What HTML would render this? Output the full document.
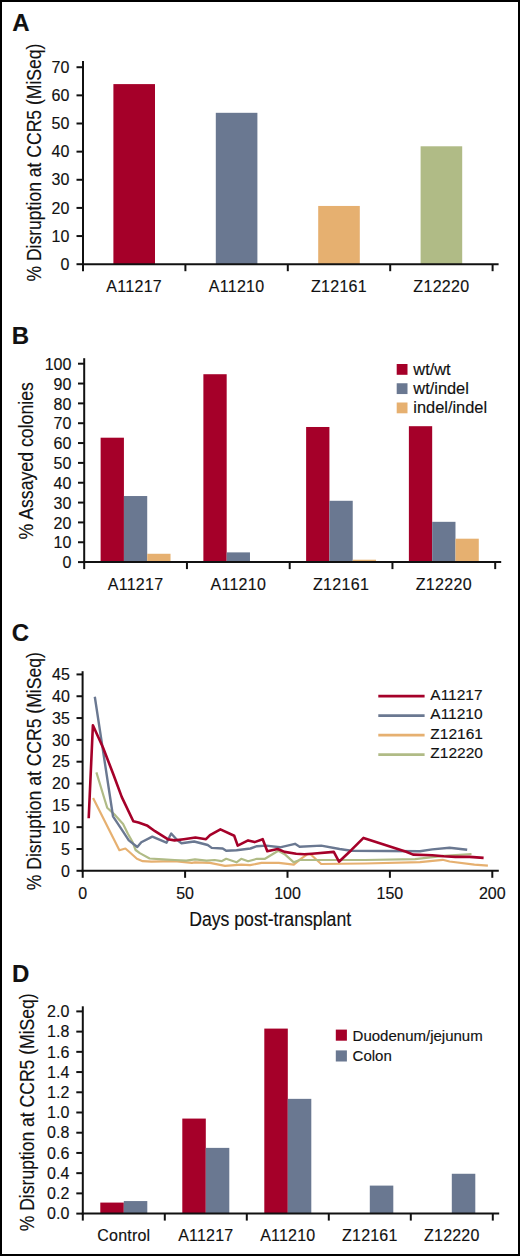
<!DOCTYPE html>
<html><head><meta charset="utf-8"><title>Figure</title>
<style>
html,body{margin:0;padding:0;background:#fff;}
body{width:520px;height:1256px;overflow:hidden;}
.fig{position:relative;width:520px;height:1256px;box-sizing:border-box;border:2px solid #000;background:#fff;}
svg{position:absolute;left:-2px;top:-2px;}
text{font-family:"Liberation Sans", sans-serif;fill:#111;stroke:#111;stroke-width:0.15px;}
</style></head><body>
<div class="fig">
<svg width="520" height="1256" viewBox="0 0 520 1256">
<text x="12.3" y="31.3" font-size="24" text-anchor="start" font-weight="bold">A</text>
<text transform="translate(40.8 162.6) rotate(-90)" x="0" y="0" font-size="20" text-anchor="middle" textLength="238" lengthAdjust="spacingAndGlyphs">% Disruption at CCR5 (MiSeq)</text>
<rect x="113.4" y="84.1" width="41.6" height="180.1" fill="#A50029"/>
<text x="134.2" y="292.2" font-size="16" text-anchor="middle" letter-spacing="0.3">A11217</text>
<rect x="215.8" y="112.81" width="41.6" height="151.39" fill="#6A7891"/>
<text x="236.6" y="292.2" font-size="16" text-anchor="middle" letter-spacing="0.3">A11210</text>
<rect x="318.2" y="205.95" width="41.6" height="58.25" fill="#E6B070"/>
<text x="339" y="292.2" font-size="16" text-anchor="middle" letter-spacing="0.3">Z12161</text>
<rect x="420.6" y="146.29" width="41.6" height="117.91" fill="#B0BB86"/>
<text x="441.4" y="292.2" font-size="16" text-anchor="middle" letter-spacing="0.3">Z12220</text>
<line x1="83" y1="61" x2="83" y2="265.2" stroke="#111" stroke-width="2"/>
<line x1="82" y1="264.2" x2="498.6" y2="264.2" stroke="#111" stroke-width="2"/>
<line x1="76.5" y1="264.2" x2="83" y2="264.2" stroke="#111" stroke-width="2"/>
<text x="69.4" y="269.9" font-size="16" text-anchor="end">0</text>
<line x1="76.5" y1="236.06" x2="83" y2="236.06" stroke="#111" stroke-width="2"/>
<text x="69.4" y="241.76" font-size="16" text-anchor="end">10</text>
<line x1="76.5" y1="207.92" x2="83" y2="207.92" stroke="#111" stroke-width="2"/>
<text x="69.4" y="213.62" font-size="16" text-anchor="end">20</text>
<line x1="76.5" y1="179.78" x2="83" y2="179.78" stroke="#111" stroke-width="2"/>
<text x="69.4" y="185.48" font-size="16" text-anchor="end">30</text>
<line x1="76.5" y1="151.64" x2="83" y2="151.64" stroke="#111" stroke-width="2"/>
<text x="69.4" y="157.34" font-size="16" text-anchor="end">40</text>
<line x1="76.5" y1="123.5" x2="83" y2="123.5" stroke="#111" stroke-width="2"/>
<text x="69.4" y="129.2" font-size="16" text-anchor="end">50</text>
<line x1="76.5" y1="95.36" x2="83" y2="95.36" stroke="#111" stroke-width="2"/>
<text x="69.4" y="101.06" font-size="16" text-anchor="end">60</text>
<line x1="76.5" y1="67.22" x2="83" y2="67.22" stroke="#111" stroke-width="2"/>
<text x="69.4" y="72.92" font-size="16" text-anchor="end">70</text>
<line x1="83" y1="264.2" x2="83" y2="271.2" stroke="#111" stroke-width="2"/>
<line x1="185.4" y1="264.2" x2="185.4" y2="271.2" stroke="#111" stroke-width="2"/>
<line x1="287.8" y1="264.2" x2="287.8" y2="271.2" stroke="#111" stroke-width="2"/>
<line x1="390.2" y1="264.2" x2="390.2" y2="271.2" stroke="#111" stroke-width="2"/>
<line x1="492.6" y1="264.2" x2="492.6" y2="271.2" stroke="#111" stroke-width="2"/>
<text x="11.8" y="343.6" font-size="24" text-anchor="start" font-weight="bold">B</text>
<text transform="translate(33.1 460.8) rotate(-90)" x="0" y="0" font-size="20" text-anchor="middle" textLength="157.5" lengthAdjust="spacingAndGlyphs">% Assayed colonies</text>
<rect x="100.62" y="437.7" width="23.3" height="124.4" fill="#A50029"/>
<rect x="123.92" y="496.03" width="23.3" height="66.07" fill="#6A7891"/>
<rect x="147.22" y="553.77" width="23.3" height="8.33" fill="#E6B070"/>
<text x="135.57" y="589.6" font-size="16" text-anchor="middle" letter-spacing="0.3">A11217</text>
<rect x="203.38" y="374.22" width="23.3" height="187.88" fill="#A50029"/>
<rect x="226.68" y="552.38" width="23.3" height="9.72" fill="#6A7891"/>
<rect x="249.97" y="561.31" width="23.3" height="0.79" fill="#E6B070"/>
<text x="238.32" y="589.6" font-size="16" text-anchor="middle" letter-spacing="0.3">A11210</text>
<rect x="306.12" y="426.99" width="23.3" height="135.11" fill="#A50029"/>
<rect x="329.43" y="500.79" width="23.3" height="61.31" fill="#6A7891"/>
<rect x="352.73" y="559.72" width="23.3" height="2.38" fill="#E6B070"/>
<text x="341.07" y="589.6" font-size="16" text-anchor="middle" letter-spacing="0.3">Z12161</text>
<rect x="408.88" y="426.2" width="23.3" height="135.9" fill="#A50029"/>
<rect x="432.18" y="521.82" width="23.3" height="40.28" fill="#6A7891"/>
<rect x="455.48" y="538.69" width="23.3" height="23.41" fill="#E6B070"/>
<text x="443.82" y="589.6" font-size="16" text-anchor="middle" letter-spacing="0.3">Z12220</text>
<line x1="84.2" y1="358.2" x2="84.2" y2="563.1" stroke="#111" stroke-width="2"/>
<line x1="83.2" y1="562.1" x2="501.2" y2="562.1" stroke="#111" stroke-width="2"/>
<line x1="78" y1="562.1" x2="84.2" y2="562.1" stroke="#111" stroke-width="2"/>
<text x="71.4" y="568.3" font-size="16" text-anchor="end">0</text>
<line x1="78" y1="542.26" x2="84.2" y2="542.26" stroke="#111" stroke-width="2"/>
<text x="71.4" y="548.46" font-size="16" text-anchor="end">10</text>
<line x1="78" y1="522.42" x2="84.2" y2="522.42" stroke="#111" stroke-width="2"/>
<text x="71.4" y="528.62" font-size="16" text-anchor="end">20</text>
<line x1="78" y1="502.58" x2="84.2" y2="502.58" stroke="#111" stroke-width="2"/>
<text x="71.4" y="508.78" font-size="16" text-anchor="end">30</text>
<line x1="78" y1="482.74" x2="84.2" y2="482.74" stroke="#111" stroke-width="2"/>
<text x="71.4" y="488.94" font-size="16" text-anchor="end">40</text>
<line x1="78" y1="462.9" x2="84.2" y2="462.9" stroke="#111" stroke-width="2"/>
<text x="71.4" y="469.1" font-size="16" text-anchor="end">50</text>
<line x1="78" y1="443.06" x2="84.2" y2="443.06" stroke="#111" stroke-width="2"/>
<text x="71.4" y="449.26" font-size="16" text-anchor="end">60</text>
<line x1="78" y1="423.22" x2="84.2" y2="423.22" stroke="#111" stroke-width="2"/>
<text x="71.4" y="429.42" font-size="16" text-anchor="end">70</text>
<line x1="78" y1="403.38" x2="84.2" y2="403.38" stroke="#111" stroke-width="2"/>
<text x="71.4" y="409.58" font-size="16" text-anchor="end">80</text>
<line x1="78" y1="383.54" x2="84.2" y2="383.54" stroke="#111" stroke-width="2"/>
<text x="71.4" y="389.74" font-size="16" text-anchor="end">90</text>
<line x1="78" y1="363.7" x2="84.2" y2="363.7" stroke="#111" stroke-width="2"/>
<text x="71.4" y="369.9" font-size="16" text-anchor="end">100</text>
<line x1="84.2" y1="562.1" x2="84.2" y2="569.1" stroke="#111" stroke-width="2"/>
<line x1="186.95" y1="562.1" x2="186.95" y2="569.1" stroke="#111" stroke-width="2"/>
<line x1="289.7" y1="562.1" x2="289.7" y2="569.1" stroke="#111" stroke-width="2"/>
<line x1="392.45" y1="562.1" x2="392.45" y2="569.1" stroke="#111" stroke-width="2"/>
<line x1="495.2" y1="562.1" x2="495.2" y2="569.1" stroke="#111" stroke-width="2"/>
<rect x="396.7" y="364" width="10.8" height="10.8" fill="#A50029"/>
<text x="413.3" y="374.9" font-size="16.4" text-anchor="start">wt/wt</text>
<rect x="396.7" y="383.25" width="10.8" height="10.8" fill="#6A7891"/>
<text x="413.3" y="394.15" font-size="16.4" text-anchor="start">wt/indel</text>
<rect x="396.7" y="402.5" width="10.8" height="10.8" fill="#E6B070"/>
<text x="413.3" y="413.4" font-size="16.4" text-anchor="start">indel/indel</text>
<text x="11.8" y="641" font-size="24" text-anchor="start" font-weight="bold">C</text>
<text transform="translate(40.6 771.2) rotate(-90)" x="0" y="0" font-size="20" text-anchor="middle" textLength="238" lengthAdjust="spacingAndGlyphs">% Disruption at CCR5 (MiSeq)</text>
<polyline points="93.1,797.9 119.4,850.2 125.4,848.5 130,852.5 136.9,858.8 142.7,861.2 151.5,861.7 174.6,861.2 191.9,862.9 195,862.3 210,862.9 225,865.8 241.2,864.6 250,865.2 261.5,862.9 278.8,862.9 293.8,864.6 300.8,858.8 307.7,854.2 310.5,854.2 321.2,864 365,863.5 420,862.1 442.7,859.8 449.6,861.5 474.4,864.6 487.9,865.6" fill="none" stroke="#E6B070" stroke-width="2.2" stroke-linejoin="round" stroke-linecap="butt"/>
<polyline points="96.4,772.4 104.8,800 107.2,807.7 115.4,815.4 123.1,824 127.9,833.7 132.7,842.3 135.6,850 139.8,853.1 149.6,858.5 163,859.4 174.6,860 186.2,860.6 195,859.4 206.5,860.6 214.6,860 221.5,861.2 226.2,858.8 236.5,862.3 241.2,858.8 248.1,861.2 256.9,858.8 265,858.8 278.3,850.8 284.6,854.2 293.8,862.3 299.6,860 310,860 365,860 415,859.2 443.8,855.8 471.5,854" fill="none" stroke="#B0BB86" stroke-width="2.2" stroke-linejoin="round" stroke-linecap="butt"/>
<polyline points="94.8,696.7 113,816.3 123.1,831.7 128.8,840.4 137.3,847 141.3,842.3 152.3,836.6 166.5,842.7 171.2,833.5 176.9,839.8 181.5,843.3 194.2,841.5 207.7,845 211.7,847.9 222.7,848.5 226.2,850.8 236.5,850.2 250.4,848.5 256.9,846.2 266.2,845.6 280,847.3 295,843.8 299.6,846.7 321.2,845.6 339.6,849 351.2,850.8 420,851.2 432.3,849.4 449.6,847.7 467.2,849.7" fill="none" stroke="#6A7891" stroke-width="2.4" stroke-linejoin="round" stroke-linecap="butt"/>
<polyline points="88.7,818.3 92.9,725.3 103.2,748 113.4,774.5 121.8,797.1 133.3,821.2 138.5,822.6 146.9,825.4 155,831.2 167.7,839.2 174.6,840.4 183.8,839.2 195.4,837.5 206,839.2 210,835.2 220.4,829.4 234.2,835.8 237.7,845.6 248.1,840.4 254.6,842.1 262.7,839.2 267.3,851.3 277.7,849 284.6,851.9 296.2,853.7 304.2,854.2 311.9,853.7 333.8,851.9 339,861.7 351.2,850.2 363.5,837.9 406.2,851.7 413.1,854.6 432.3,855.2 443.8,856.3 455.4,856.9 469.6,856.9 483.6,857.9" fill="none" stroke="#A50029" stroke-width="2.6" stroke-linejoin="round" stroke-linecap="butt"/>
<line x1="82.6" y1="671.2" x2="82.6" y2="871.8" stroke="#111" stroke-width="2"/>
<line x1="81.6" y1="870.8" x2="498.8" y2="870.8" stroke="#111" stroke-width="2"/>
<line x1="76.5" y1="870.8" x2="82.6" y2="870.8" stroke="#111" stroke-width="2"/>
<text x="69.8" y="876.5" font-size="16" text-anchor="end">0</text>
<line x1="76.5" y1="848.98" x2="82.6" y2="848.98" stroke="#111" stroke-width="2"/>
<text x="69.8" y="854.68" font-size="16" text-anchor="end">5</text>
<line x1="76.5" y1="827.16" x2="82.6" y2="827.16" stroke="#111" stroke-width="2"/>
<text x="69.8" y="832.86" font-size="16" text-anchor="end">10</text>
<line x1="76.5" y1="805.34" x2="82.6" y2="805.34" stroke="#111" stroke-width="2"/>
<text x="69.8" y="811.04" font-size="16" text-anchor="end">15</text>
<line x1="76.5" y1="783.52" x2="82.6" y2="783.52" stroke="#111" stroke-width="2"/>
<text x="69.8" y="789.22" font-size="16" text-anchor="end">20</text>
<line x1="76.5" y1="761.7" x2="82.6" y2="761.7" stroke="#111" stroke-width="2"/>
<text x="69.8" y="767.4" font-size="16" text-anchor="end">25</text>
<line x1="76.5" y1="739.88" x2="82.6" y2="739.88" stroke="#111" stroke-width="2"/>
<text x="69.8" y="745.58" font-size="16" text-anchor="end">30</text>
<line x1="76.5" y1="718.06" x2="82.6" y2="718.06" stroke="#111" stroke-width="2"/>
<text x="69.8" y="723.76" font-size="16" text-anchor="end">35</text>
<line x1="76.5" y1="696.24" x2="82.6" y2="696.24" stroke="#111" stroke-width="2"/>
<text x="69.8" y="701.94" font-size="16" text-anchor="end">40</text>
<line x1="76.5" y1="674.42" x2="82.6" y2="674.42" stroke="#111" stroke-width="2"/>
<text x="69.8" y="680.12" font-size="16" text-anchor="end">45</text>
<line x1="82.7" y1="870.8" x2="82.7" y2="877.8" stroke="#111" stroke-width="2"/>
<text x="82.7" y="899.1" font-size="16" text-anchor="middle">0</text>
<line x1="185.1" y1="870.8" x2="185.1" y2="877.8" stroke="#111" stroke-width="2"/>
<text x="185.1" y="899.1" font-size="16" text-anchor="middle">50</text>
<line x1="287.5" y1="870.8" x2="287.5" y2="877.8" stroke="#111" stroke-width="2"/>
<text x="287.5" y="899.1" font-size="16" text-anchor="middle">100</text>
<line x1="389.9" y1="870.8" x2="389.9" y2="877.8" stroke="#111" stroke-width="2"/>
<text x="389.9" y="899.1" font-size="16" text-anchor="middle">150</text>
<line x1="492.3" y1="870.8" x2="492.3" y2="877.8" stroke="#111" stroke-width="2"/>
<text x="492.3" y="899.1" font-size="16" text-anchor="middle">200</text>
<text x="270.15" y="926.2" font-size="20" text-anchor="middle" textLength="162" lengthAdjust="spacingAndGlyphs">Days post-transplant</text>
<line x1="378.3" y1="696.1" x2="424.6" y2="696.1" stroke="#A50029" stroke-width="2.6"/>
<text x="430.3" y="699.7" font-size="15.5" text-anchor="start">A11217</text>
<line x1="378.3" y1="715.6" x2="424.6" y2="715.6" stroke="#6A7891" stroke-width="2.6"/>
<text x="430.3" y="719.2" font-size="15.5" text-anchor="start">A11210</text>
<line x1="378.3" y1="735.1" x2="424.6" y2="735.1" stroke="#E6B070" stroke-width="2.6"/>
<text x="430.3" y="738.7" font-size="15.5" text-anchor="start">Z12161</text>
<line x1="378.3" y1="754.6" x2="424.6" y2="754.6" stroke="#B0BB86" stroke-width="2.6"/>
<text x="430.3" y="758.2" font-size="15.5" text-anchor="start">Z12220</text>
<text x="12" y="981.5" font-size="24" text-anchor="start" font-weight="bold">D</text>
<text transform="translate(33.8 1112.3) rotate(-90)" x="0" y="0" font-size="20" text-anchor="middle" textLength="238" lengthAdjust="spacingAndGlyphs">% Disruption at CCR5 (MiSeq)</text>
<rect x="100.3" y="1202.58" width="23.5" height="11.02" fill="#A50029"/>
<rect x="123.8" y="1201.06" width="23.5" height="12.54" fill="#6A7891"/>
<text x="123.8" y="1241" font-size="16" text-anchor="middle" letter-spacing="0.2">Control</text>
<rect x="182.3" y="1118.57" width="23.5" height="95.03" fill="#A50029"/>
<rect x="205.8" y="1147.88" width="23.5" height="65.72" fill="#6A7891"/>
<text x="205.8" y="1241" font-size="16" text-anchor="middle" letter-spacing="0.2">A11217</text>
<rect x="264.3" y="1028.59" width="23.5" height="185.01" fill="#A50029"/>
<rect x="287.8" y="1098.85" width="23.5" height="114.75" fill="#6A7891"/>
<text x="287.8" y="1241" font-size="16" text-anchor="middle" letter-spacing="0.2">A11210</text>
<rect x="369.8" y="1185.6" width="23.5" height="28" fill="#6A7891"/>
<text x="369.8" y="1241" font-size="16" text-anchor="middle" letter-spacing="0.2">Z12161</text>
<rect x="451.8" y="1173.77" width="23.5" height="39.83" fill="#6A7891"/>
<text x="451.8" y="1241" font-size="16" text-anchor="middle" letter-spacing="0.2">Z12220</text>
<line x1="82.8" y1="1006.3" x2="82.8" y2="1214.6" stroke="#111" stroke-width="2"/>
<line x1="81.8" y1="1213.6" x2="499.2" y2="1213.6" stroke="#111" stroke-width="2"/>
<line x1="76.3" y1="1213.6" x2="82.8" y2="1213.6" stroke="#111" stroke-width="2"/>
<text x="69.3" y="1219.3" font-size="16" text-anchor="end">0.0</text>
<line x1="76.3" y1="1193.38" x2="82.8" y2="1193.38" stroke="#111" stroke-width="2"/>
<text x="69.3" y="1199.08" font-size="16" text-anchor="end">0.2</text>
<line x1="76.3" y1="1173.16" x2="82.8" y2="1173.16" stroke="#111" stroke-width="2"/>
<text x="69.3" y="1178.86" font-size="16" text-anchor="end">0.4</text>
<line x1="76.3" y1="1152.94" x2="82.8" y2="1152.94" stroke="#111" stroke-width="2"/>
<text x="69.3" y="1158.64" font-size="16" text-anchor="end">0.6</text>
<line x1="76.3" y1="1132.72" x2="82.8" y2="1132.72" stroke="#111" stroke-width="2"/>
<text x="69.3" y="1138.42" font-size="16" text-anchor="end">0.8</text>
<line x1="76.3" y1="1112.5" x2="82.8" y2="1112.5" stroke="#111" stroke-width="2"/>
<text x="69.3" y="1118.2" font-size="16" text-anchor="end">1.0</text>
<line x1="76.3" y1="1092.28" x2="82.8" y2="1092.28" stroke="#111" stroke-width="2"/>
<text x="69.3" y="1097.98" font-size="16" text-anchor="end">1.2</text>
<line x1="76.3" y1="1072.06" x2="82.8" y2="1072.06" stroke="#111" stroke-width="2"/>
<text x="69.3" y="1077.76" font-size="16" text-anchor="end">1.4</text>
<line x1="76.3" y1="1051.84" x2="82.8" y2="1051.84" stroke="#111" stroke-width="2"/>
<text x="69.3" y="1057.54" font-size="16" text-anchor="end">1.6</text>
<line x1="76.3" y1="1031.62" x2="82.8" y2="1031.62" stroke="#111" stroke-width="2"/>
<text x="69.3" y="1037.32" font-size="16" text-anchor="end">1.8</text>
<line x1="76.3" y1="1011.4" x2="82.8" y2="1011.4" stroke="#111" stroke-width="2"/>
<text x="69.3" y="1017.1" font-size="16" text-anchor="end">2.0</text>
<line x1="82.8" y1="1213.6" x2="82.8" y2="1220.6" stroke="#111" stroke-width="2"/>
<line x1="164.8" y1="1213.6" x2="164.8" y2="1220.6" stroke="#111" stroke-width="2"/>
<line x1="246.8" y1="1213.6" x2="246.8" y2="1220.6" stroke="#111" stroke-width="2"/>
<line x1="328.8" y1="1213.6" x2="328.8" y2="1220.6" stroke="#111" stroke-width="2"/>
<line x1="410.8" y1="1213.6" x2="410.8" y2="1220.6" stroke="#111" stroke-width="2"/>
<line x1="492.8" y1="1213.6" x2="492.8" y2="1220.6" stroke="#111" stroke-width="2"/>
<rect x="335.8" y="1029.6" width="11.1" height="11.1" fill="#A50029"/>
<text x="352.6" y="1040.5" font-size="15" text-anchor="start">Duodenum/jejunum</text>
<rect x="335.8" y="1050.4" width="11.1" height="11.1" fill="#6A7891"/>
<text x="352.6" y="1061.3" font-size="15" text-anchor="start">Colon</text>
</svg>
</div>
</body></html>
